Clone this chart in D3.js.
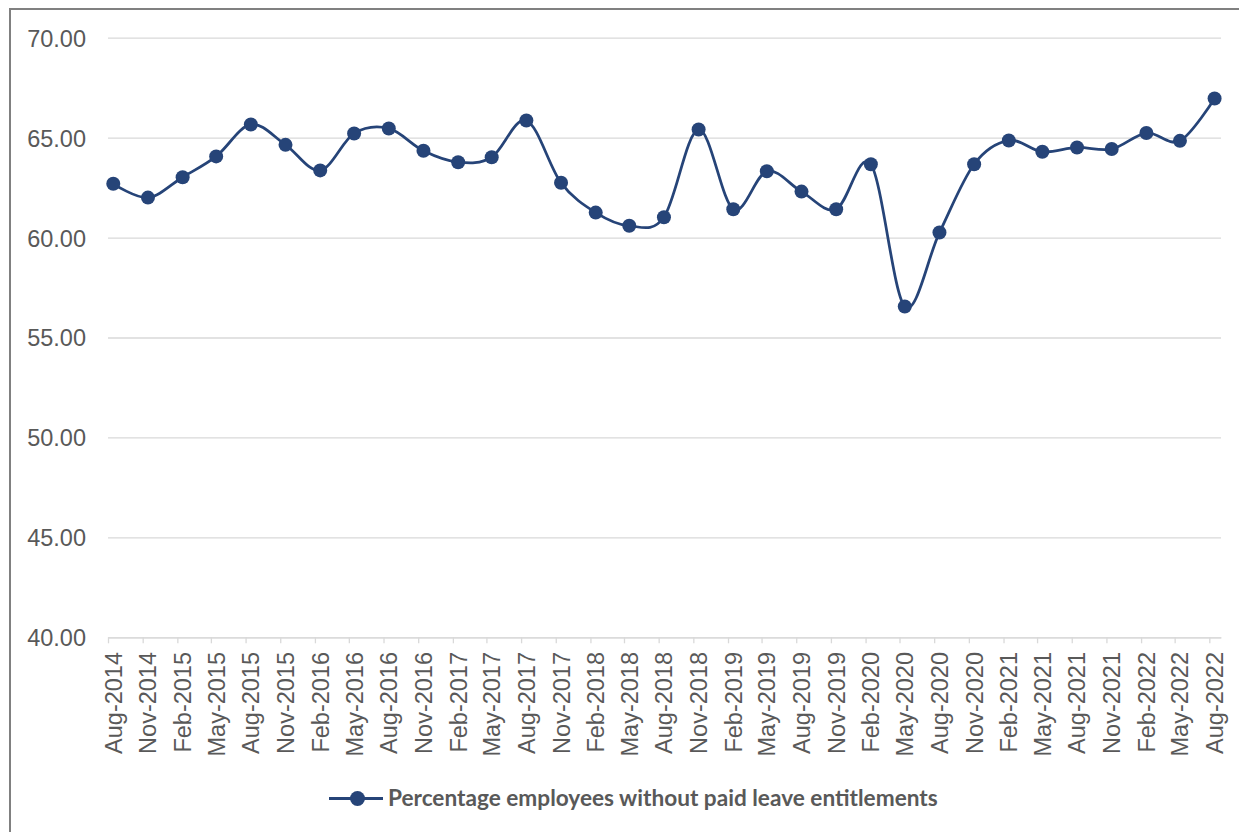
<!DOCTYPE html>
<html>
<head>
<meta charset="utf-8">
<script src="https://cdn.jsdelivr.net/npm/d3@7"></script>
<style>
  html, body { margin: 0; padding: 0; background: #ffffff; }
  svg { display: block; }
</style>
</head>
<body>
<svg id="chart" width="1239" height="832"></svg>
<script>
// Quarterly survey periods (month-year)
const periods = [
  "Aug-2014","Nov-2014","Feb-2015","May-2015","Aug-2015","Nov-2015",
  "Feb-2016","May-2016","Aug-2016","Nov-2016","Feb-2017","May-2017",
  "Aug-2017","Nov-2017","Feb-2018","May-2018","Aug-2018","Nov-2018",
  "Feb-2019","May-2019","Aug-2019","Nov-2019","Feb-2020","May-2020",
  "Aug-2020","Nov-2020","Feb-2021","May-2021","Aug-2021","Nov-2021",
  "Feb-2022","May-2022","Aug-2022"
];

// Percentage of employees without paid leave entitlements
const values = [
  62.69, 62.00, 63.02, 64.06, 65.66, 64.64,
  63.36, 65.21, 65.46, 64.34, 63.77, 64.02,
  65.86, 62.74, 61.25, 60.59, 61.02, 65.41,
  61.42, 63.32, 62.30, 61.42, 63.67, 56.55,
  60.25, 63.67, 64.86, 64.29, 64.51, 64.43,
  65.23, 64.84, 66.96
];

const yTicks = [40, 45, 50, 55, 60, 65, 70];
const seriesName = "Percentage employees without paid leave entitlements";

const svg = d3.select("#chart");
const W = 1239, H = 832;

const textColor = "#595959";
const lineColor = "#264478";
const gridColor = "#d9d9d9";
const labelFont = "'Liberation Sans', Arial, sans-serif";

// Outer chart frame (extends past the visible page on the right/bottom)
svg.append("rect")
  .attr("x", 10).attr("y", 9)
  .attr("width", W + 20).attr("height", H + 20)
  .attr("fill", "#ffffff")
  .attr("stroke", "#808080")
  .attr("stroke-width", 2);

// Period starts and observation dates (mid-month)
const parse = d3.timeParse("%b-%Y");
const monthStarts = periods.map(p => parse(p));
const obsDates = monthStarts.map(d => d3.timeDay.offset(d, 14));
const data = periods.map((p, i) => ({ label: p, date: obsDates[i], value: values[i] }));

const plotLeft = 108, plotRight = 1221, plotTop = 37.7, plotBottom = 637.3;

const x = d3.scaleTime()
  .domain([monthStarts[0], d3.timeMonth.offset(monthStarts[monthStarts.length - 1], 1)])
  .range([plotLeft, plotRight]);

const y = d3.scaleLinear()
  .domain([d3.min(yTicks), d3.max(yTicks)])
  .range([plotBottom, plotTop]);

// Horizontal gridlines + y labels
const yAxis = d3.axisLeft(y)
  .tickValues(yTicks)
  .tickSize(-(plotRight - plotLeft))
  .tickPadding(22)
  .tickFormat(d3.format(".2f"));

const gy = svg.append("g")
  .attr("transform", `translate(${plotLeft},0)`)
  .call(yAxis);
gy.select(".domain").remove();
gy.selectAll(".tick line")
  .attr("stroke", gridColor)
  .attr("stroke-width", 1.3);
gy.selectAll(".tick text")
  .attr("fill", textColor)
  .attr("font-family", labelFont)
  .attr("font-size", 23.5)
  .attr("dy", "0.36em");

// Bottom axis: line and tick marks at the start of each period
const xAxis = d3.axisBottom(x)
  .tickValues(monthStarts)
  .tickSize(6)
  .tickSizeOuter(0)
  .tickFormat("");
const gx = svg.append("g")
  .attr("transform", `translate(0,${plotBottom})`)
  .call(xAxis);
gx.select(".domain").attr("stroke", gridColor).attr("stroke-width", 1.3);
gx.selectAll(".tick line").attr("stroke", gridColor).attr("stroke-width", 1.3);

// Rotated period labels, centred on each observation
svg.append("g")
  .selectAll("text")
  .data(data)
  .join("text")
  .attr("transform", d => `translate(${x(d.date)},652) rotate(-90)`)
  .attr("text-anchor", "end")
  .attr("dy", "0.36em")
  .attr("fill", textColor)
  .attr("font-family", labelFont)
  .attr("font-size", 23.5)
  .text(d => d.label);

// Smoothed series line
const line = d3.line()
  .x(d => x(d.date))
  .y(d => y(d.value))
  .curve(d3.curveCardinal.tension(0));

svg.append("path")
  .datum(data)
  .attr("d", line)
  .attr("fill", "none")
  .attr("stroke", lineColor)
  .attr("stroke-width", 2.75)
  .attr("stroke-linejoin", "round")
  .attr("stroke-linecap", "round");

// Markers
svg.append("g")
  .selectAll("circle")
  .data(data)
  .join("circle")
  .attr("cx", d => x(d.date))
  .attr("cy", d => y(d.value))
  .attr("r", 7)
  .attr("fill", lineColor);

// Legend
const legend = svg.append("g");
legend.append("line")
  .attr("x1", 329).attr("x2", 383)
  .attr("y1", 798.5).attr("y2", 798.5)
  .attr("stroke", lineColor)
  .attr("stroke-width", 3);
legend.append("circle")
  .attr("cx", 357.5).attr("cy", 798.5).attr("r", 7.5)
  .attr("fill", lineColor);
const legendText = legend.append("text")
  .attr("x", 388).attr("y", 806)
  .attr("fill", textColor)
  .attr("font-family", "Lato, 'Open Sans', sans-serif")
  .attr("font-weight", "bold")
  .attr("font-size", 24)
  .text(seriesName);
// Fit the legend label to its intended span
const targetWidth = 550;
const measured = legendText.node().getComputedTextLength();
if (measured > 0) {
  legendText.attr("font-size", 24 * targetWidth / measured);
}
</script>
</body>
</html>
